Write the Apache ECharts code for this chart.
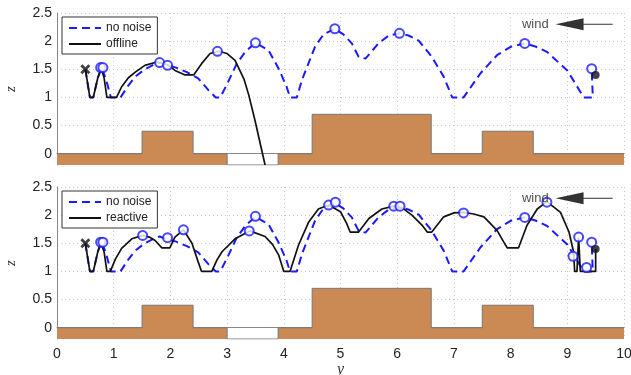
<!DOCTYPE html>
<html><head><meta charset="utf-8">
<script src="https://cdn.jsdelivr.net/npm/echarts@6/dist/echarts.min.js"></script>
<style>html,body{margin:0;padding:0;background:#fff}#c{width:631px;height:375px}</style>
</head><body><div id="c"></div><script>
const xTicks = [0,1,2,3,4,5,6,7,8,9,10];
const zTicks = [0,0.5,1,1.5,2,2.5];
const terrain = [[0,0],[1.5,0],[1.5,0.4],[2.4,0.4],[2.4,0],[3.0,0],[3.0,-0.2],[3.9,-0.2],[3.9,0],[4.5,0],[4.5,0.7],[6.6,0.7],[6.6,0],[7.5,0],[7.5,0.4],[8.4,0.4],[8.4,0],[10,0]];
const noNoise = [[0.5,1.5],[0.58,1.0],[0.64,1.0],[0.72,1.35],[0.79,1.53],[0.87,1.3],[0.95,1.0],[1.12,1.0],[1.25,1.2],[1.38,1.37],[1.55,1.5],[1.7,1.58],[1.81,1.62],[1.95,1.57],[2.1,1.53],[2.29,1.45],[2.49,1.34],[2.67,1.13],[2.8,1.0],[2.88,1.0],[3.02,1.28],[3.17,1.6],[3.32,1.81],[3.5,1.97],[3.73,1.84],[3.91,1.51],[4.05,1.19],[4.11,1.0],[4.23,1.0],[4.32,1.31],[4.55,1.9],[4.7,2.12],[4.9,2.22],[5.05,2.12],[5.2,1.96],[5.32,1.72],[5.44,1.69],[5.67,1.96],[5.85,2.1],[6.04,2.14],[6.2,2.1],[6.38,2.01],[6.58,1.76],[6.67,1.62],[6.82,1.37],[6.97,1.0],[7.17,1.0],[7.47,1.43],[7.76,1.75],[8.0,1.9],[8.25,1.96],[8.45,1.9],[8.64,1.81],[9.0,1.48],[9.29,1.0],[9.45,1.0],[9.44,1.25],[9.43,1.51]];
const offline = [[0.5,1.5],[0.58,1.0],[0.64,1.0],[0.72,1.35],[0.78,1.52],[0.83,1.35],[0.88,1.0],[1.05,1.0],[1.14,1.19],[1.26,1.35],[1.38,1.45],[1.55,1.57],[1.76,1.63],[1.95,1.58],[2.08,1.48],[2.26,1.40],[2.41,1.40],[2.55,1.6],[2.7,1.78],[2.85,1.82],[3.0,1.78],[3.14,1.66],[3.3,1.32],[3.38,1.05],[3.49,0.6],[3.58,0.2],[3.67,-0.2]];
const reactive = [[0.5,1.5],[0.58,1.0],[0.64,1.0],[0.72,1.35],[0.77,1.52],[0.83,1.35],[0.88,1.0],[0.94,1.0],[1.03,1.22],[1.14,1.41],[1.32,1.58],[1.51,1.64],[1.63,1.61],[1.73,1.55],[1.85,1.42],[1.99,1.42],[2.08,1.61],[2.23,1.74],[2.38,1.5],[2.49,1.17],[2.55,1.0],[2.73,1.0],[2.82,1.2],[2.91,1.35],[3.14,1.58],[3.4,1.72],[3.67,1.62],[3.8,1.48],[3.91,1.29],[4.0,1.0],[4.11,1.0],[4.26,1.47],[4.44,1.88],[4.61,2.11],[4.79,2.18],[5.0,2.06],[5.11,1.85],[5.17,1.70],[5.32,1.70],[5.5,1.94],[5.73,2.11],[5.94,2.16],[6.1,2.12],[6.26,2.0],[6.44,1.82],[6.53,1.70],[6.61,1.70],[6.82,1.97],[7.0,2.04],[7.17,2.05],[7.35,2.02],[7.53,1.97],[7.76,1.73],[7.88,1.52],[7.94,1.42],[8.14,1.42],[8.29,1.82],[8.47,2.11],[8.64,2.24],[8.88,2.05],[9.03,1.70],[9.11,1.35],[9.13,1.0],[9.17,1.0],[9.2,1.6],[9.23,1.0],[9.5,1.0],[9.5,1.4]];
const circlesTop = [[0.77,1.53],[0.81,1.53],[1.81,1.62],[1.95,1.57],[2.83,1.82],[3.5,1.97],[4.9,2.22],[6.04,2.14],[8.25,1.96],[9.43,1.51]];
const circlesBottom = [[0.77,1.52],[0.81,1.52],[1.51,1.64],[1.95,1.6],[2.23,1.74],[3.39,1.72],[3.5,1.98],[4.79,2.18],[4.91,2.23],[5.94,2.16],[6.05,2.16],[7.17,2.04],[8.25,1.96],[8.64,2.23],[9.1,1.27],[9.2,1.61],[9.34,1.07],[9.43,1.52]];
const startPt = [[0.5,1.5]];
const goalPt = [[9.5,1.4]];
const windText = [[8.68,2.3]];
const windHead = [[9.04,2.3]];
const windTail = [[9.28,2.3],[9.8,2.3]];
const panelNames = ['offline','reactive'];
const panelLines = [offline, reactive];
const panelCircles = [circlesTop, circlesBottom];

const FONT = 'Liberation Sans, Arial, sans-serif';
const SERIF = 'Liberation Serif, DejaVu Serif, serif';
const BLUE = '#1a1aff';
const grids = [0,1].map(i => ({left:57, width:567, top: i===0 ? 13 : 187, height:152, outerBoundsMode:'none', containLabel:false}));
const xAxes = [0,1].map(i => ({
  type:'value', gridIndex:i, min:0, max:10, interval:1,
  axisLine:{show:true, lineStyle:{color:'#888', width:1}},
  axisTick:{show:false},
  axisLabel:{show:i===1, fontSize:14, color:'#222', fontFamily:FONT, margin:8},
  splitLine:{show:true, lineStyle:{color:'#c8c8c8', type:[1,3], width:1}},
  name: i===1 ? 'y' : '', nameLocation:'middle', nameGap:19,
  nameTextStyle:{fontFamily:SERIF, fontStyle:'italic', fontSize:16, color:'#333'}
}));
const yAxes = [0,1].map(i => ({
  type:'value', gridIndex:i, min:-0.2, max:2.5,
  axisLine:{show:true, lineStyle:{color:'#888', width:1}},
  axisTick:{show:false, customValues:zTicks},
  axisLabel:{customValues:zTicks, fontSize:14, color:'#222', fontFamily:FONT, margin:5},
  splitLine:{show:true, lineStyle:{color:'#c8c8c8', type:[1,3], width:1}},
  name:'z', nameLocation:'middle', nameGap:38,
  nameTextStyle:{fontFamily:SERIF, fontStyle:'italic', fontSize:15, color:'#333'}
}));
const series = [];
[0,1].forEach(i => {
  const ax = {xAxisIndex:i, yAxisIndex:i};
  series.push(Object.assign({type:'line', name:'terrain'+i, data:terrain, symbol:'none', z:1,
    lineStyle:{color:'#777', width:1}, areaStyle:{color:'#cb8a54', opacity:1, origin:'start'}}, ax));
  series.push(Object.assign({type:'line', name:'no noise', data:noNoise, symbol:'none', z:3,
    lineStyle:{color:BLUE, width:2, type:[8,5]}, itemStyle:{color:BLUE}}, ax));
  series.push(Object.assign({type:'line', name:panelNames[i], data:panelLines[i], symbol:'none', z:4,
    lineStyle:{color:'#111', width:1.7}, itemStyle:{color:'#111'}}, ax));
  series.push(Object.assign({type:'scatter', name:'circ'+i, data:panelCircles[i], symbol:'emptyCircle', symbolSize:9, z:5,
    itemStyle:{color:BLUE, borderColor:BLUE, borderWidth:1.5}}, ax));
  series.push(Object.assign({type:'scatter', name:'start'+i, data:startPt, z:6,
    symbol:'path://M2,0 L5,3 L8,0 L10,2 L7,5 L10,8 L8,10 L5,7 L2,10 L0,8 L3,5 L0,2 Z', symbolSize:10,
    itemStyle:{color:'#111'}}, ax));
  series.push(Object.assign({type:'scatter', name:'goal'+i, data:goalPt, symbol:'circle', symbolSize:8, z:6,
    itemStyle:{color:'#111'}}, ax));
  series.push(Object.assign({type:'scatter', name:'windtxt'+i, data:windText, symbolSize:1, z:6,
    itemStyle:{color:'rgba(0,0,0,0)'},
    label:{show:true, formatter:'wind', position:'left', distance:0, fontSize:13, color:'#222', fontFamily:FONT}}, ax));
  series.push(Object.assign({type:'line', name:'windline'+i, data:windTail, symbol:'none', z:6,
    lineStyle:{color:'#333', width:1}}, ax));
  series.push(Object.assign({type:'scatter', name:'windhead'+i, data:windHead, symbol:'triangle', symbolSize:[12,28], symbolRotate:90, z:6,
    itemStyle:{color:'#000'}}, ax));
});
const legendCommon = {orient:'vertical', left:62, itemWidth:32, itemHeight:11, itemGap:4,
  padding:[5,6,4,6], borderColor:'#333', borderWidth:1, backgroundColor:'#fff',
  itemStyle:{opacity:0},
  textStyle:{fontSize:12, color:'#222', fontFamily:FONT}, selectedMode:false};
const chart = echarts.init(document.getElementById('c'), null, {renderer:'canvas'});
chart.setOption({
  animation:false, backgroundColor:'#fff',
  grid:grids, xAxis:xAxes, yAxis:yAxes, series:series,
  legend:[Object.assign({top:17, data:['no noise','offline']}, legendCommon),
          Object.assign({top:191, data:['no noise','reactive']}, legendCommon)]
});
</script></body></html>
